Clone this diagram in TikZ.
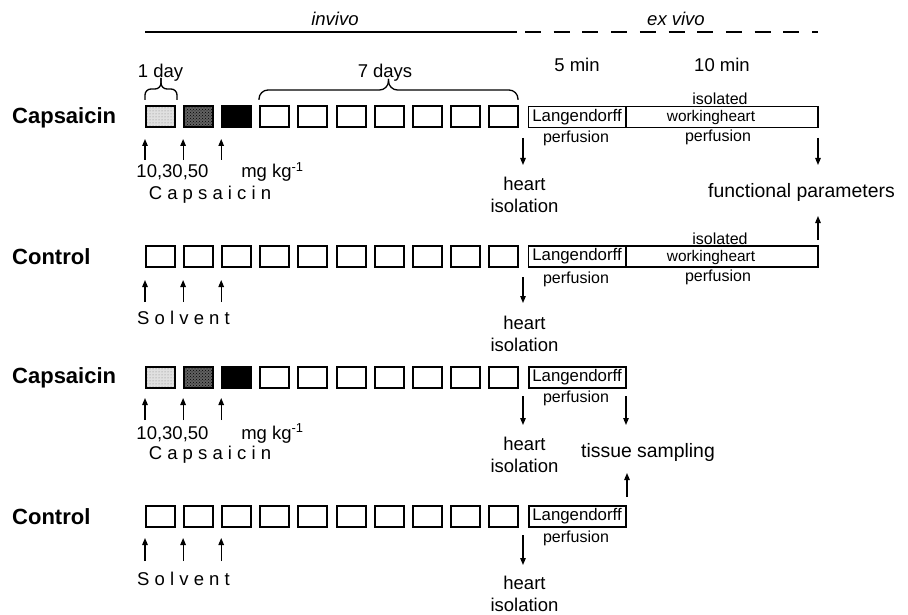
\documentclass[tikz,border=0pt]{standalone}
\usepackage{fontspec}
\setmainfont{Liberation Sans}
\usetikzlibrary{arrows.meta,patterns}
\begin{document}
\begin{tikzpicture}[x=1pt,y=-1pt,
  txt/.style={inner sep=0pt, font=\fontsize{18.5}{22}\selectfont},
  big/.style={inner sep=0pt, font=\fontsize{19.4}{22}\selectfont},
  itx/.style={inner sep=0pt, font=\fontsize{18.5}{22}\selectfont\itshape},
  sml/.style={inner sep=0pt, font=\fontsize{16}{19}\selectfont},
  wsml/.style={inner sep=0pt, font=\fontsize{15.4}{19}\selectfont},
  grp/.style={inner sep=0pt, anchor=west, font=\fontsize{22}{24}\selectfont\bfseries},
  day/.style={draw, line width=2pt, minimum width=29pt, minimum height=21pt, inner sep=0pt},
  lightbox/.style={day, preaction={fill=black!12}, pattern=dots, pattern color=black!50},
  darkbox/.style={day, preaction={fill=black!62}, pattern=crosshatch dots, pattern color=black},
  blackbox/.style={day, fill=black},
  lbox/.style={draw, line width=1.3pt, minimum width=97pt, minimum height=21pt, inner sep=0pt, font=\fontsize{16.8}{19}\selectfont},
  lboxb/.style={lbox, line width=2pt},
  wbox/.style={draw, line width=1.3pt, minimum width=192pt, minimum height=21pt, inner sep=0pt},
  arr/.style={line width=1.2pt, -{Triangle[length=7pt,width=5.5pt]}},
  brc/.style={line width=1.3pt, rounded corners=6pt},
  topl/.style={line width=1.6pt}
]
\useasboundingbox (0,0) rectangle (908,615);

% top line
\coordinate (t0) at (145,32);
\coordinate (t1) at (517,32);
\coordinate (t2) at (818,32);
\draw[topl] (t0) -- (t1);
\draw[topl, dash pattern=on 16pt off 12.7pt, dash phase=20.7pt] (t1) -- (t2);
\node[itx] (invivo) at (335,18.5) {invivo};
\node[itx] (exvivo) at (676,19) {ex vivo};

% durations
\node[txt] (oneday) at (160.5,73) {1 day};
\node[txt] (sevendays) at (385,73) {7 days};
\node[txt] (fivemin) at (577,65) {5 min};
\node[txt] (tenmin) at (722,65) {10 min};

% braces
\draw[brc] (145,100) -- (145,89) -- (161,89) -- (161,78);
\draw[brc] (177,100) -- (177,89) -- (161,89) -- (161,78);
\draw[brc, rounded corners=9pt] (259,100) -- (259,90) -- (388.5,90) -- (388.5,79);
\draw[brc, rounded corners=9pt] (518,100) -- (518,90) -- (388.5,90) -- (388.5,79);

% group labels
\node[grp] (g1) at (12,118) {Capsaicin};
\node[grp] (g2) at (12,256.5) {Control};
\node[grp] (g3) at (12,378) {Capsaicin};
\node[grp] (g4) at (12,516.5) {Control};

% day boxes
\foreach \r/\yc in {1/117,3/377} {
  \node[lightbox] (b\r-0) at (160.5,\yc) {};
  \node[darkbox] (b\r-1) at (198.6,\yc) {};
  \node[blackbox] (b\r-2) at (236.7,\yc) {};
  \foreach \i in {3,...,9} {
    \node[day] (b\r-\i) at ({160.5+38.1*\i},\yc) {};
  }
}
\foreach \r/\yc in {2/256.5,4/516.5} {
  \foreach \i in {0,...,9} {
    \node[day] (b\r-\i) at ({160.5+38.1*\i},\yc) {};
  }
}

% injection arrows
\foreach \r/\ya/\yb in {1/160/139,2/302/280,3/420/398,4/561/538} {
  \foreach \i in {0,1,2} {
    \coordinate (ia\r-\i) at ({145+38.1*\i},\ya);
    \coordinate (ib\r-\i) at ({145+38.1*\i},\yb);
    \draw[arr] (ia\r-\i) -- (ib\r-\i);
  }
}

% dose labels
\node[txt, anchor=base] (dose1) at (172.5,178) {10,30,50};
\node[txt, anchor=base] (unit1) at (272.5,178) {mg kg\textsuperscript{-1}};
\node[txt] (cap1) at (210,195) {C a p s a i c i n};
\node[txt, anchor=base] (dose3) at (172.5,439) {10,30,50};
\node[txt, anchor=base] (unit3) at (272.5,439) {mg kg\textsuperscript{-1}};
\node[txt] (cap3) at (210,455) {C a p s a i c i n};
\node[txt] (sol2) at (183.5,318) {S o l v e n t};
\node[txt] (sol4) at (183.5,578.5) {S o l v e n t};

% Langendorff boxes
\node[lbox] (L1) at (577,117) {Langendorff};
\node[lbox] (L2) at (577,256.5) {Langendorff};
\node[lboxb] (L3) at (577,377) {Langendorff};
\node[lboxb] (L4) at (577,516.5) {Langendorff};
\node[sml] (p1) at (576,138) {perfusion};
\node[sml] (p2) at (576,279) {perfusion};
\node[sml] (p3) at (576,398) {perfusion};
\node[sml] (p4) at (576,538) {perfusion};

% working heart boxes
\node[wbox] (W1) at (722,117) {};
\node[wbox] (W2) at (722,256.5) {};
\node[sml] (wi1) at (720,98.5) {isolated};
\node[wsml] (wt1) at (711,118) {workingheart};
\node[sml] (wp1) at (718,137.5) {perfusion};
\node[sml] (wi2) at (720,238.5) {isolated};
\node[wsml] (wt2) at (711,257.5) {workingheart};
\node[sml] (wp2) at (718,277.5) {perfusion};

% heart isolation
\node[txt, align=center, anchor=north] (h1) at (524.5,177) {heart\\isolation};
\node[txt, align=center, anchor=north] (h2) at (524.5,316) {heart\\isolation};
\node[txt, align=center, anchor=north] (h3) at (524.5,437) {heart\\isolation};
\node[txt, align=center, anchor=north] (h4) at (524.5,575.5) {heart\\isolation};
\coordinate (ha1) at (523,138);
\coordinate (ha2) at (523,277);
\coordinate (ha3) at (523,396);
\coordinate (ha4) at (523,535);
\draw[arr] (ha1) -- (ha1 |- 0,165);
\draw[arr] (ha2) -- (ha2 |- 0,303);
\draw[arr] (ha3) -- (ha3 |- 0,425);
\draw[arr] (ha4) -- (ha4 |- 0,565);

% functional parameters
\node[big, anchor=north] (fp) at (801.5,183) {functional parameters};
\coordinate (fa1) at (818,138);
\coordinate (fb1) at (818,165);
\coordinate (fa2) at (818,240);
\coordinate (fb2) at (818,216);
\draw[arr] (fa1) -- (fb1);
\draw[arr] (fa2) -- (fb2);

% tissue sampling
\node[big, anchor=north] (ts) at (648,443) {tissue sampling};
\coordinate (sa3) at (626,396);
\coordinate (sb3) at (626,425);
\coordinate (sa4) at (627,497);
\coordinate (sb4) at (627,473);
\draw[arr] (sa3) -- (sb3);
\draw[arr] (sa4) -- (sb4);
\end{tikzpicture}
\end{document}
